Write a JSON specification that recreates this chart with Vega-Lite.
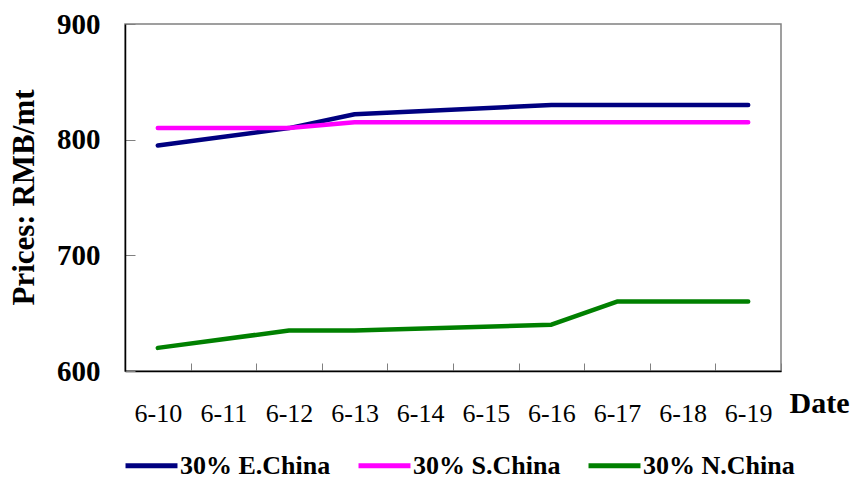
{
  "$schema": "https://vega.github.io/schema/vega-lite/v6.json",
  "width": 656,
  "height": 347,
  "autosize": "none",
  "padding": {"left": 125, "top": 24, "right": 73, "bottom": 108},
  "background": "white",
  "config": {
    "font": "Liberation Serif",
    "view": {"stroke": "#808080", "strokeWidth": 1.5}
  },
  "data": {
    "values": [
      {"date": "6-10", "series": "30% E.China", "price": 795},
      {"date": "6-12", "series": "30% E.China", "price": 810},
      {"date": "6-13", "series": "30% E.China", "price": 822},
      {"date": "6-16", "series": "30% E.China", "price": 830},
      {"date": "6-17", "series": "30% E.China", "price": 830},
      {"date": "6-18", "series": "30% E.China", "price": 830},
      {"date": "6-19", "series": "30% E.China", "price": 830},
      {"date": "6-10", "series": "30% S.China", "price": 810},
      {"date": "6-11", "series": "30% S.China", "price": 810},
      {"date": "6-12", "series": "30% S.China", "price": 810},
      {"date": "6-13", "series": "30% S.China", "price": 815},
      {"date": "6-14", "series": "30% S.China", "price": 815},
      {"date": "6-15", "series": "30% S.China", "price": 815},
      {"date": "6-16", "series": "30% S.China", "price": 815},
      {"date": "6-17", "series": "30% S.China", "price": 815},
      {"date": "6-18", "series": "30% S.China", "price": 815},
      {"date": "6-19", "series": "30% S.China", "price": 815},
      {"date": "6-10", "series": "30% N.China", "price": 620},
      {"date": "6-12", "series": "30% N.China", "price": 635},
      {"date": "6-13", "series": "30% N.China", "price": 635},
      {"date": "6-16", "series": "30% N.China", "price": 640},
      {"date": "6-17", "series": "30% N.China", "price": 660},
      {"date": "6-18", "series": "30% N.China", "price": 660},
      {"date": "6-19", "series": "30% N.China", "price": 660}
    ]
  },
  "mark": {"type": "line", "strokeWidth": 4.5, "strokeCap": "round", "strokeJoin": "round"},
  "encoding": {
    "x": {
      "field": "date",
      "type": "nominal",
      "scale": {
        "type": "band",
        "domain": ["6-10", "6-11", "6-12", "6-13", "6-14", "6-15", "6-16", "6-17", "6-18", "6-19"],
        "paddingInner": 0,
        "paddingOuter": 0
      },
      "axis": {
        "title": "Date",
        "titleFontSize": 30,
        "titleFontWeight": "bold",
        "titleAlign": "left",
        "titleBaseline": "alphabetic",
        "titleX": 664,
        "titleY": 41,
        "labelAngle": 0,
        "labelFontSize": 26,
        "labelColor": "black",
        "labelPadding": 37,
        "tickBand": "extent",
        "tickSize": -8,
        "tickColor": "#808080",
        "domainColor": "black",
        "domainWidth": 1.5,
        "grid": false
      }
    },
    "y": {
      "field": "price",
      "type": "quantitative",
      "scale": {"domain": [600, 900], "nice": false, "zero": false},
      "axis": {
        "title": "Prices: RMB/mt",
        "titleFontSize": 31,
        "titleFontWeight": "bold",
        "titleAngle": -90,
        "titleAlign": "center",
        "titleBaseline": "alphabetic",
        "titleX": -92,
        "titleY": 173,
        "values": [600, 700, 800, 900],
        "labelFontSize": 29,
        "labelFontWeight": "bold",
        "labelColor": "black",
        "labelPadding": 35,
        "tickSize": -10,
        "tickColor": "#808080",
        "domainColor": "black",
        "domainWidth": 1.5,
        "grid": false
      }
    },
    "color": {
      "field": "series",
      "type": "nominal",
      "scale": {
        "domain": ["30% E.China", "30% S.China", "30% N.China"],
        "range": ["#000080", "#FF00FF", "#008000"]
      },
      "legend": {
        "title": null,
        "orient": "none",
        "direction": "horizontal",
        "legendX": -2,
        "legendY": 413,
        "symbolType": "stroke",
        "symbolSize": 2700,
        "symbolStrokeWidth": 5,
        "labelFontSize": 26,
        "labelFontWeight": "bold",
        "labelColor": "black",
        "labelOffset": 0,
        "labelLimit": 300,
        "columnPadding": 17
      }
    }
  }
}
